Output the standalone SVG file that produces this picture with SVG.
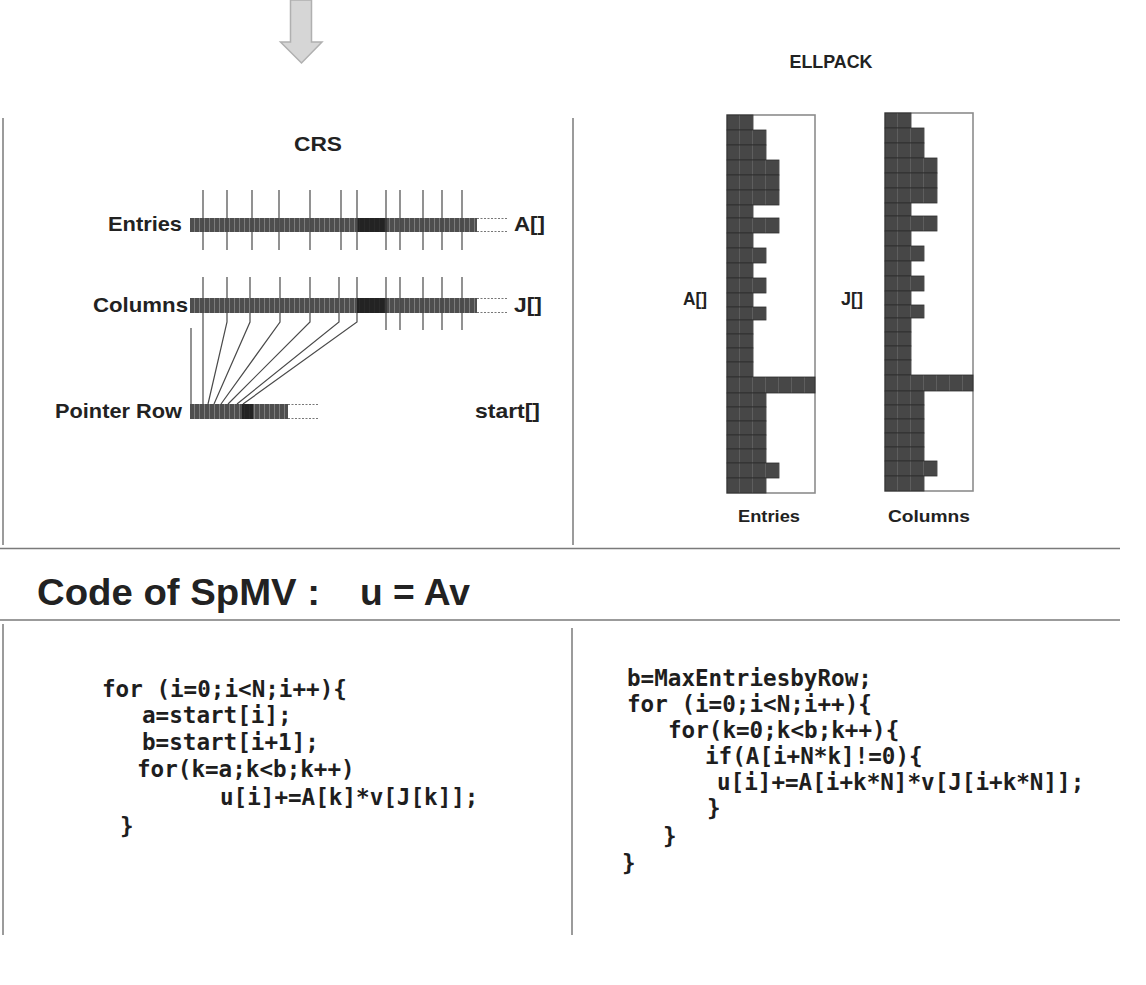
<svg xmlns="http://www.w3.org/2000/svg" width="1146" height="985" viewBox="0 0 1146 985">
<style>
.lbl{font-family:"Liberation Sans",Arial,sans-serif;font-weight:bold;fill:#222}
.code{font-family:"DejaVu Sans Mono","Liberation Mono",monospace;font-size:22.6px;font-weight:bold;fill:#1e1e1e;white-space:pre}
.div{stroke:#7a7a7a;stroke-width:1.5;fill:none}
.tick{stroke:#4a4a4a;stroke-width:1.2;fill:none}
.dot{stroke:#777;stroke-width:1.2;stroke-dasharray:2 1.5;fill:none}
.row{fill:url(#cell);stroke:#2e2e2e;stroke-width:0.8}
</style>
<defs>
<pattern id="bar" width="5" height="20" patternUnits="userSpaceOnUse">
<rect width="5" height="20" fill="#4e4e4e"/>
<rect x="4" width="1" height="20" fill="#7c7c7c"/>
</pattern>
<pattern id="cell" x="0" y="0" width="13" height="20" patternUnits="userSpaceOnUse">
<rect width="13" height="20" fill="#474747"/>
<rect x="12" width="1" height="20" fill="#5e5e5e"/>
</pattern>
<g id="ellgrid">
<rect x="0" y="0" width="88" height="378" fill="#fff" stroke="#8c8c8c" stroke-width="1.6"/>
<rect class="row" x="0" y="0" width="26" height="15"/>
<rect class="row" x="0" y="15" width="39" height="15"/>
<rect class="row" x="0" y="30" width="39" height="15"/>
<rect class="row" x="0" y="45" width="52" height="15"/>
<rect class="row" x="0" y="60" width="52" height="15"/>
<rect class="row" x="0" y="75" width="52" height="15"/>
<rect class="row" x="0" y="90" width="26" height="13"/>
<rect class="row" x="0" y="103" width="52" height="15"/>
<rect class="row" x="0" y="118" width="26" height="15"/>
<rect class="row" x="0" y="133" width="39" height="15"/>
<rect class="row" x="0" y="148" width="26" height="15"/>
<rect class="row" x="0" y="163" width="39" height="15"/>
<rect class="row" x="0" y="178" width="26" height="14"/>
<rect class="row" x="0" y="192" width="39" height="13"/>
<rect class="row" x="0" y="205" width="26" height="14"/>
<rect class="row" x="0" y="219" width="26" height="14"/>
<rect class="row" x="0" y="233" width="26" height="14"/>
<rect class="row" x="0" y="247" width="26" height="15"/>
<rect class="row" x="0" y="262" width="88" height="16"/>
<rect class="row" x="0" y="278" width="39" height="14"/>
<rect class="row" x="0" y="292" width="39" height="14"/>
<rect class="row" x="0" y="306" width="39" height="14"/>
<rect class="row" x="0" y="320" width="39" height="14"/>
<rect class="row" x="0" y="334" width="39" height="14"/>
<rect class="row" x="0" y="348" width="52" height="15"/>
<rect class="row" x="0" y="363" width="39" height="15"/>
</g>
</defs>
<rect width="1146" height="985" fill="#fff"/>

<g id="arrow">
<polygon points="290.5,0 311.5,0 311.5,42 322,42 301.5,63 280.5,42 290.5,42" fill="#d6d6d6" stroke="#b0b0b0" stroke-width="1.5"/>
</g>

<g id="frame">
<line class="div" x1="3" y1="118" x2="3" y2="545"/>
<line class="div" x1="573" y1="118" x2="573" y2="545"/>
<line class="div" x1="0" y1="548.5" x2="1120" y2="548.5"/>
<line class="div" x1="0" y1="620" x2="1120" y2="620"/>
<line class="div" x1="3" y1="624" x2="3" y2="935"/>
<line class="div" x1="572" y1="628" x2="572" y2="935"/>
</g>

<g id="crs">
<text class="lbl" x="318" y="151" font-size="21" text-anchor="middle" textLength="48" lengthAdjust="spacingAndGlyphs">CRS</text>
<text class="lbl" x="108" y="231" font-size="21" textLength="74" lengthAdjust="spacingAndGlyphs">Entries</text>
<text class="lbl" x="93" y="312" font-size="21" textLength="95" lengthAdjust="spacingAndGlyphs">Columns</text>
<text class="lbl" x="55" y="418" font-size="21" textLength="127" lengthAdjust="spacingAndGlyphs">Pointer Row</text>
<text class="lbl" x="514" y="231" font-size="21" textLength="31" lengthAdjust="spacingAndGlyphs">A[]</text>
<text class="lbl" x="514" y="312" font-size="21" textLength="28" lengthAdjust="spacingAndGlyphs">J[]</text>
<text class="lbl" x="475" y="418" font-size="21" textLength="65" lengthAdjust="spacingAndGlyphs">start[]</text>
</g>

<g id="entries-bar">
<rect x="190" y="218" width="287" height="14" fill="url(#bar)"/>
<rect x="357" y="218" width="30" height="14" fill="#1c1c1c" opacity="0.85"/>
<line class="dot" x1="477" y1="218.5" x2="508" y2="218.5"/>
<line class="dot" x1="477" y1="231.5" x2="508" y2="231.5"/>
<path class="tick" d="M203,190V250M227,190V250M252,190V250M279,190V250M310,190V250M341,190V250M357,190V250M386,190V250M400,190V250M423,190V250M442,190V250M462,190V250"/>
</g>

<g id="columns-bar">
<rect x="190" y="298" width="287" height="15" fill="url(#bar)"/>
<rect x="357" y="298" width="30" height="15" fill="#1c1c1c" opacity="0.85"/>
<line class="dot" x1="477" y1="298.5" x2="507" y2="298.5"/>
<line class="dot" x1="477" y1="312.5" x2="507" y2="312.5"/>
<path class="tick" d="M386,277V330M400,277V330M423,277V330M442,277V330M462,277V330M203,277V298M227,277V298M250,277V298M280,277V298M310,277V298M339,277V298M357,277V298"/>
</g>

<g id="pointer-bar">
<rect x="190" y="404" width="98" height="15" fill="url(#bar)"/>
<rect x="242" y="404" width="11" height="15" fill="#1c1c1c" opacity="0.85"/>
<line class="dot" x1="288" y1="404.5" x2="318" y2="404.5"/>
<line class="dot" x1="288" y1="418.5" x2="318" y2="418.5"/>
</g>

<g id="connectors">
<path class="tick" d="M191,328V404"/>
<path class="tick" d="M203,313V404"/>
<path class="tick" d="M227,313V322L208,404"/>
<path class="tick" d="M250,313V322L214,404"/>
<path class="tick" d="M280,313V322L221,404"/>
<path class="tick" d="M310,313V322L228,404"/>
<path class="tick" d="M339,313V322L237,404"/>
<path class="tick" d="M357,313V322L243,404"/>
</g>

<g id="ellpack">
<text class="lbl" x="831" y="68" font-size="17.5" text-anchor="middle" textLength="83" lengthAdjust="spacingAndGlyphs">ELLPACK</text>
<use href="#ellgrid" x="727" y="115"/>
<use href="#ellgrid" x="885" y="113"/>
<text class="lbl" x="683" y="305" font-size="18" textLength="24" lengthAdjust="spacingAndGlyphs">A[]</text>
<text class="lbl" x="841" y="305" font-size="18" textLength="22" lengthAdjust="spacingAndGlyphs">J[]</text>
<text class="lbl" x="769" y="522" font-size="16" text-anchor="middle" textLength="62" lengthAdjust="spacingAndGlyphs">Entries</text>
<text class="lbl" x="929" y="522" font-size="16" text-anchor="middle" textLength="82" lengthAdjust="spacingAndGlyphs">Columns</text>
</g>

<g id="code-title">
<text class="lbl" x="37" y="605" font-size="37" textLength="283" lengthAdjust="spacingAndGlyphs">Code of SpMV :</text>
<text class="lbl" x="360" y="605" font-size="37" textLength="110" lengthAdjust="spacingAndGlyphs">u = Av</text>
</g>

<g id="code-crs">
<text class="code" x="102" y="697">for (i=0;i&lt;N;i++){</text>
<text class="code" x="142" y="723">a=start[i];</text>
<text class="code" x="142" y="750">b=start[i+1];</text>
<text class="code" x="137" y="777">for(k=a;k&lt;b;k++)</text>
<text class="code" x="220" y="805">u[i]+=A[k]*v[J[k]];</text>
<text class="code" x="120" y="834">}</text>
</g>

<g id="code-ellpack">
<text class="code" x="627" y="686">b=MaxEntriesbyRow;</text>
<text class="code" x="627" y="712">for (i=0;i&lt;N;i++){</text>
<text class="code" x="668" y="738">for(k=0;k&lt;b;k++){</text>
<text class="code" x="705" y="764">if(A[i+N*k]!=0){</text>
<text class="code" x="717" y="790">u[i]+=A[i+k*N]*v[J[i+k*N]];</text>
<text class="code" x="707" y="816">}</text>
<text class="code" x="663" y="844">}</text>
<text class="code" x="622" y="871">}</text>
</g>
</svg>
